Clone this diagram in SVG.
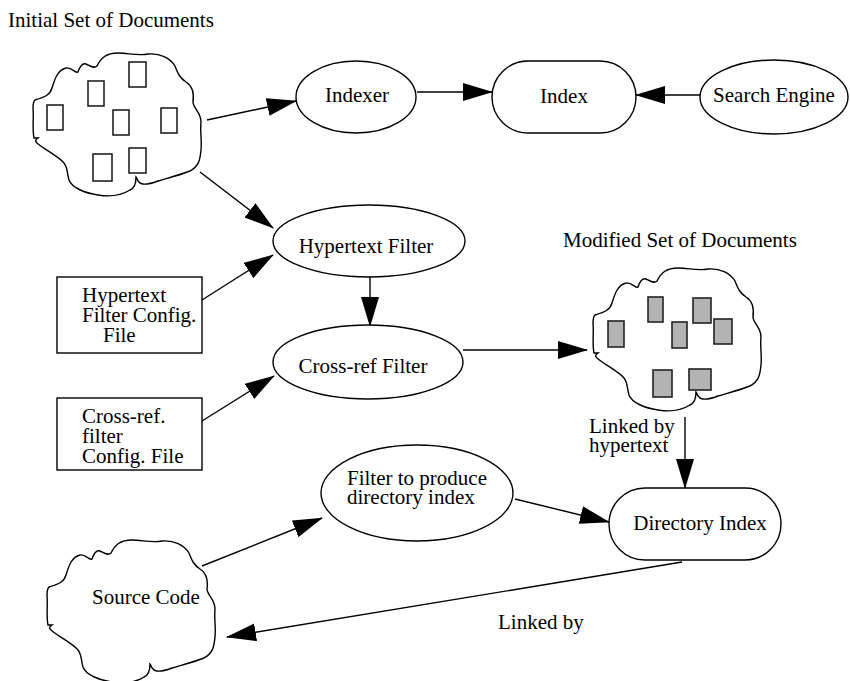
<svg xmlns="http://www.w3.org/2000/svg" xmlns:xlink="http://www.w3.org/1999/xlink" width="850" height="681" viewBox="0 0 850 681" font-family="'Liberation Serif', 'DejaVu Serif', serif" font-size="21">
<style>
text{font-family:'Liberation Serif','DejaVu Serif',serif;font-size:21px;fill:#000}
.shape{fill:#fff;stroke:#000;stroke-width:1.4}
.doc{fill:#fff;stroke:#222;stroke-width:1.6}
.gdoc{fill:#b3b3b3;stroke:#222;stroke-width:1.6}
.conn{stroke:#000;stroke-width:1.4;fill:none;marker-end:url(#ah)}
.mid{text-anchor:middle}
</style>
<defs>
<marker id="ah" markerUnits="userSpaceOnUse" markerWidth="30" markerHeight="18" refX="29" refY="9" orient="auto">
<path d="M0,0 L30,9 L0,18 Z" fill="#000"/>
</marker>
<path id="cloud" d="M35,100 C45,97 50,95 52,88 C55,78 58,70 66,68 C72,67 76,74 78,72 C80,66 83,63 86,64 C90,66 94,69 97,66 C101,58 106,53 118,53 C128,53 138,56 148,54 C160,53 170,58 175,66 C178,74 180,78 186,82 C194,87 194,95 193,102 C193,108 201,112 201,122 C200,132 202,140 201,150 C200,160 199,166 190,171 C180,175 168,178 158,181 C150,184 142,186 139,182 C137,180 137,178 136,177 C136,182 135,188 130,190 C122,195 110,197 98,195 C85,193 72,188 69,180 C67,174 68,168 64,163 C58,156 45,150 37,143 C35,141 35,140 38,138 L34,138 C32,128 34,118 33,108 C33,104 34,101 35,100 Z"/>
</defs>
<rect width="850" height="681" fill="#fff"/>

<text x="8" y="27">Initial Set of Documents</text>
<text x="563" y="247">Modified Set of Documents</text>

<g id="connectors">
<line class="conn" x1="207" y1="120" x2="296" y2="101"/>
<line class="conn" x1="417" y1="92" x2="492" y2="92"/>
<line class="conn" x1="700" y1="95" x2="636" y2="95"/>
<line class="conn" x1="200" y1="172" x2="273" y2="228"/>
<line class="conn" x1="202" y1="300" x2="273" y2="255"/>
<line class="conn" x1="370" y1="277" x2="370" y2="326"/>
<line class="conn" x1="202" y1="421" x2="274" y2="376"/>
<line class="conn" x1="463" y1="350" x2="587" y2="350"/>
<line class="conn" x1="685" y1="417" x2="685" y2="488"/>
<line class="conn" x1="515" y1="499" x2="609" y2="522"/>
<line class="conn" x1="202" y1="566" x2="322" y2="518"/>
<line class="conn" x1="682" y1="562" x2="227" y2="637"/>
<text x="589" y="433">Linked by</text>
<text x="589" y="452">hypertext</text>
<text x="498" y="629">Linked by</text>
</g>

<g id="initial-docs">
<use xlink:href="#cloud" class="shape"/>
<rect class="doc" x="129" y="62" width="17" height="25"/>
<rect class="doc" x="88" y="81" width="16" height="25"/>
<rect class="doc" x="47" y="105" width="16" height="25"/>
<rect class="doc" x="113" y="110" width="16" height="25"/>
<rect class="doc" x="161" y="108" width="16" height="25"/>
<rect class="doc" x="93" y="154" width="19" height="27"/>
<rect class="doc" x="129" y="148" width="17" height="25"/>
</g>

<g id="indexer">
<ellipse class="shape" cx="356" cy="97" rx="60" ry="36"/>
<text class="mid" x="357" y="102">Indexer</text>
</g>

<g id="index">
<rect class="shape" x="492" y="61" width="144" height="72" rx="36" ry="36"/>
<text class="mid" x="564" y="103">Index</text>
</g>

<g id="search-engine">
<ellipse class="shape" cx="774" cy="97" rx="74" ry="37"/>
<text class="mid" x="774" y="102">Search Engine</text>
</g>

<g id="hypertext-filter">
<ellipse class="shape" cx="369" cy="241" rx="96" ry="36"/>
<text class="mid" x="366" y="253">Hypertext Filter</text>
</g>

<g id="hypertext-config">
<rect class="shape" x="57" y="277" width="145" height="76"/>
<text x="82" y="302">Hypertext</text>
<text x="82" y="322">Filter Config.</text>
<text x="103" y="342">File</text>
</g>

<g id="crossref-filter">
<ellipse class="shape" cx="368" cy="362" rx="95" ry="37"/>
<text class="mid" x="363" y="373">Cross-ref Filter</text>
</g>

<g id="crossref-config">
<rect class="shape" x="57" y="398" width="145" height="72"/>
<text x="82" y="423">Cross-ref.</text>
<text x="82" y="443">filter</text>
<text x="82" y="463">Config. File</text>
</g>

<g id="modified-docs">
<use xlink:href="#cloud" class="shape" transform="translate(560,215)"/>
<rect class="gdoc" x="608" y="321" width="16" height="26"/>
<rect class="gdoc" x="648" y="297" width="15" height="25"/>
<rect class="gdoc" x="693" y="298" width="18" height="25"/>
<rect class="gdoc" x="672" y="322" width="15" height="26"/>
<rect class="gdoc" x="714" y="319" width="18" height="25"/>
<rect class="gdoc" x="653" y="370" width="19" height="27"/>
<rect class="gdoc" x="689" y="369" width="22" height="21"/>
</g>

<g id="filter-dir">
<ellipse class="shape" cx="417" cy="493" rx="96" ry="48"/>
<text x="347" y="485">Filter to produce</text>
<text x="347" y="504">directory index</text>
</g>

<g id="directory-index">
<rect class="shape" x="609" y="488" width="172" height="72" rx="36" ry="36"/>
<text class="mid" x="700" y="530">Directory Index</text>
</g>

<g id="source-code">
<use xlink:href="#cloud" class="shape" transform="translate(14,487)"/>
<text x="92" y="604">Source Code</text>
</g>
</svg>
